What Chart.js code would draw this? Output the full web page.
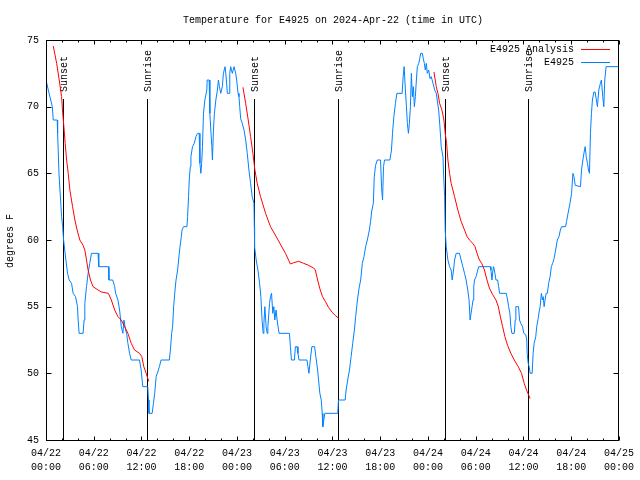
<!DOCTYPE html>
<html><head><meta charset="utf-8">
<script src="https://cdn.jsdelivr.net/npm/chart.js@4"></script>
<style>html,body{margin:0;padding:0;background:#fff}canvas{display:block}</style>
</head><body>
<canvas id="c" width="640" height="480"></canvas>
<script>
// time in hours since 2024-04-22 00:00 UTC
const obsHours = [0,0.29,0.59,0.79,0.91,1.41,1.46,1.63,1.96,2.09,2.21,2.5,2.71,2.91,3.21,3.41,3.71,3.96,4.04,4.16,4.66,4.79,4.88,5.09,5.29,5.5,5.71,6.54,6.63,7.84,7.91,8.38,8.63,8.75,9.04,9.25,9.46,9.66,9.79,10,10.13,10.29,10.5,10.71,11.75,11.96,12.16,12.79,12.88,12.94,13.34,13.5,13.66,13.84,14.04,14.25,14.46,15.5,15.63,15.79,15.91,16.04,16.21,16.34,16.54,16.66,16.84,17,17.09,17.29,17.71,17.79,17.91,18,18.13,18.21,18.41,18.63,18.84,19.04,19.25,19.34,19.46,19.56,19.66,19.79,19.96,20.21,20.25,20.5,20.59,20.71,20.84,20.91,21.04,21.16,21.34,21.54,21.66,21.79,21.96,22.16,22.29,22.5,22.63,22.79,23,23.09,23.21,23.41,23.63,23.84,23.96,24.13,24.25,24.34,24.46,24.66,24.88,25.09,25.29,25.5,25.71,25.91,26.13,26.18,26.21,26.41,26.63,26.84,27,27.16,27.29,27.38,27.5,27.66,27.79,27.88,28.09,28.21,28.34,28.5,28.63,28.75,28.91,29.04,29.16,29.29,30.59,30.71,30.84,31.21,31.34,31.54,31.66,31.79,32.79,32.91,33.04,33.21,33.41,33.75,33.91,34.13,34.25,34.41,34.59,34.71,34.79,34.91,35.04,36.66,36.75,37.59,37.71,37.91,38.13,38.34,38.54,38.75,38.91,39.13,39.34,39.54,39.75,39.96,40.16,40.38,40.63,40.79,40.91,41.13,41.25,41.41,41.63,42.04,42.16,42.29,42.41,42.54,43.21,43.41,43.54,43.71,43.91,44.09,44.75,44.88,45,45.16,45.29,45.41,45.54,45.66,45.79,45.91,46.04,46.16,46.29,46.41,46.54,46.66,46.84,46.96,47.09,47.29,47.41,47.54,47.66,47.79,47.91,48.09,48.25,48.41,48.63,48.84,49.04,49.16,49.34,49.5,49.66,49.88,49.96,50.09,50.16,50.29,50.5,50.71,50.91,51.04,51.21,51.34,51.54,51.96,52.16,52.38,52.59,52.79,53,53.16,53.29,53.41,53.54,53.66,53.75,53.84,54.04,54.25,54.38,55.84,55.91,56.04,56.16,56.25,56.41,56.54,56.75,56.88,57,57.84,58,58.13,58.29,58.41,58.54,58.84,58.96,59.04,59.38,59.5,59.66,59.88,60.04,60.29,60.41,60.46,60.59,60.71,60.84,61.09,61.21,61.34,61.54,61.66,61.84,61.96,62.09,62.25,62.38,62.48,62.59,62.71,62.84,63,63.16,63.34,63.5,63.66,63.84,64.04,64.25,64.46,64.63,64.79,65.29,65.41,65.63,65.84,66.04,66.21,66.34,66.5,67.16,67.29,67.46,67.59,67.75,67.88,68.04,68.16,68.29,68.41,68.54,68.66,68.84,69,69.16,69.29,69.46,69.66,69.79,69.96,70.09,70.21,70.38,72];
const obsTemps = [72,71.25,70.5,70,69,69,68,65,61.75,61,60,58.5,57.5,57,56.75,56,55.75,55,54,53,53,54,55.25,56.5,57.5,58.25,59,59,58,58,57,57,56.5,56,55.5,54.75,53.5,53,54,53.25,53,52.25,51.5,51,51,50.25,49,49,48,47,47,47.75,48.5,49.75,50.1,50.5,51,51,51.75,53,53.5,55,56.25,57,57.75,58.5,59.5,60.25,60.75,61,61,61.75,63.25,64.5,65.5,66.25,67,67.25,67.75,68,68,65.75,65,65.75,67,69.5,70.5,71.25,72,72,69.5,68.25,67,66,68.25,69.5,70.5,71.25,72,71.5,71,71.5,72.5,73,72.25,71,71,72.5,73,72.5,73,72.5,72,71,70.75,70,69.1,68.75,68.25,67.5,66.5,65.25,64.25,63.25,62.75,61,59.5,58.5,57.75,56.75,55.75,53.9,53,53.75,55,53.5,53,53.5,55.25,55.75,56,54.5,55,54,54.75,54,53.5,53,53,52,51,51,52,52,51.5,51,51,50.5,50,51,52,52,51.25,50.25,49.5,48.5,48,47,46,46.5,47,47,48,48,48.75,49.5,50.25,51.25,52.25,53.25,54.25,55.5,56.4,57,58.25,58.75,59.5,60,60.75,61.4,62.1,62.75,64.75,65.6,66,66,64,63,65.5,66,66,66.75,68,69.25,70.25,71,71,72.25,73,71.25,70,68.75,68,68.75,70,72.5,70.75,71.5,70,70.75,72,73,73.25,73.6,74,74,73.6,73.25,72.75,73.25,72.5,72.75,72.1,72.25,71.75,71.25,71,70.5,69.75,68.5,67,66.25,64.9,63.25,60.75,59.5,58.5,58,57.75,57,57.75,58.5,59,59,58.5,58,57.5,57,56.25,55.5,54,54.5,55,55.5,56.5,57,57.25,57.75,58,58,57.75,57,57.75,58,57.5,57,57,56.5,56,56,55.5,55,54.5,53.5,53,53,54,55,55,54,53.75,53.5,53,52.9,52.5,51.5,50.75,50.5,50,50,51.5,52.25,52.75,53.5,54.1,54.6,55,56,55.5,55.75,55,55.5,56,56,56.75,57.25,58,58.25,58.6,59.25,60,60.25,60.75,61,61,61.4,62.1,62.75,63.5,65,64.75,64.1,64,65.25,66,66.5,67,66.25,65.75,65.25,65,68,69.5,70.5,71.1,71.1,70.5,70,71.25,71.75,72,70.75,70,72,73,73];
// analysis series; null marks the daytime gaps
const anaHours = [0.91,1.34,1.66,1.96,2.09,2.25,2.41,2.59,2.79,3,3.34,3.63,3.91,4.25,4.66,4.88,5.09,5.29,5.59,5.91,6.54,6.96,7.84,8.21,8.63,9.04,9.46,9.88,10.29,10.71,11.13,11.75,12.04,12.29,12.59,12.91,18,24.75,25.09,25.41,25.71,26,26.25,26.54,26.96,27.59,28.21,29.16,30.09,30.71,31.13,31.75,32.38,33,33.63,33.84,34.13,34.46,34.75,35.09,35.5,35.91,36.34,36.84,42,48.75,49.04,49.25,49.46,49.75,50,50.16,50.34,50.5,50.71,50.91,51.34,51.75,52.16,52.59,52.91,53.21,53.63,53.91,54.16,54.46,54.75,55.09,55.41,55.71,56.13,56.54,56.84,57.09,57.38,57.66,58,58.41,58.84,59.34,59.75,60.09,60.38,60.63,60.84];
const anaTemps = [74.55,73.25,72,70.75,69.6,68.5,67.25,66,65,63.75,62.5,61.5,60.75,60,59.6,59.25,58.5,57.75,57,56.5,56.25,56.1,56,55.5,54.75,54.25,54,53.5,53,52.25,51.75,51.5,51.25,50.5,50,49.4,null,71.45,70.25,69,67.75,66.5,65.25,64.25,63.25,62,61,60,59,58.2,58.3,58.4,58.25,58.1,57.9,57.75,57,56.25,55.75,55.4,54.95,54.6,54.35,54.1,null,72.6,71.5,71,70.25,69.75,69,68,67.25,66,65,64.25,63.25,62.25,61.4,60.75,60.25,60,59.75,59.5,59,58.5,58.25,57.75,57,56.4,55.9,55.5,55,54.25,53.5,52.75,52.1,51.5,51,50.5,50,49.25,48.75,48.4,48.1];
const sunHours = [2.09, 12.66, 26.16, 36.66, 50.16, 60.54];
const sunLabels = ['Sunset','Sunrise','Sunset','Sunrise','Sunset','Sunrise'];
const xTickLabels = [['04/22','00:00'],['04/22','06:00'],['04/22','12:00'],['04/22','18:00'],['04/23','00:00'],['04/23','06:00'],['04/23','12:00'],['04/23','18:00'],['04/24','00:00'],['04/24','06:00'],['04/24','12:00'],['04/24','18:00'],['04/25','00:00']];
const yTickValues = [45,50,55,60,65,70,75];
const titleText = 'Temperature for E4925 on 2024-Apr-22 (time in UTC)';
const yAxisTitle = 'degrees F';
const seriesNames = ['E4925 Analysis','E4925'];
const seriesColors = ['#ff0000','#0080ff'];

const FONT = '10px "Liberation Mono", "DejaVu Sans Mono", monospace';

const toPoints = (xs, ys) => xs.map((x, i) => ({x: x, y: ys[i]}));

const gnuplotDecor = {
  id: 'gnuplotDecor',
  beforeDatasetsDraw(chart) {
    const {ctx, chartArea: a, scales: {x, y}} = chart;
    ctx.save();
    ctx.strokeStyle = '#000'; ctx.lineWidth = 1;
    const top = y.getPixelForValue(70.6);
    sunHours.forEach((h, i) => {
      const px = Math.round(x.getPixelForValue(h)) + 0.5;
      ctx.beginPath(); ctx.moveTo(px, Math.round(top)); ctx.lineTo(px, a.bottom); ctx.stroke();
      ctx.save();
      ctx.translate(px + 1, Math.round(top) - 7);
      ctx.rotate(-Math.PI / 2);
      ctx.font = FONT; ctx.fillStyle = '#000';
      ctx.textAlign = 'left'; ctx.textBaseline = 'middle';
      ctx.fillText(sunLabels[i], 0, 0);
      ctx.restore();
    });
    ctx.restore();
  },
  afterDraw(chart) {
    const {ctx, chartArea: a, scales: {x, y}} = chart;
    ctx.save();
    ctx.strokeStyle = '#000'; ctx.lineWidth = 1;
    const L = a.left + 0.5, R = a.right - 0.5, T = a.top + 0.5, B = a.bottom + 0.5;
    ctx.strokeRect(L, T, R - L, B - T);
    ctx.beginPath();
    for (let h = 0; h <= 72; h += 2) {
      const px = Math.round(x.getPixelForValue(h)) + 0.5;
      const len = (h % 6 === 0) ? 4 : 2;
      ctx.moveTo(px, B); ctx.lineTo(px, B - len);
      ctx.moveTo(px, T); ctx.lineTo(px, T + len);
    }
    yTickValues.forEach(v => {
      const py = Math.round(y.getPixelForValue(v)) + 0.5;
      ctx.moveTo(L, py); ctx.lineTo(L + 5, py);
      ctx.moveTo(R, py); ctx.lineTo(R - 5, py);
    });
    ctx.stroke();
    // title
    ctx.font = FONT; ctx.fillStyle = '#000';
    ctx.textAlign = 'center'; ctx.textBaseline = 'middle';
    ctx.fillText(titleText, 333, 20);
    // y axis title
    ctx.save();
    ctx.translate(10, 241); ctx.rotate(-Math.PI / 2);
    ctx.fillText(yAxisTitle, 0, 0);
    ctx.restore();
    // legend
    ctx.textAlign = 'right';
    seriesNames.forEach((n, i) => {
      const ly = 49 + i * 13;
      ctx.fillStyle = '#000';
      ctx.fillText(n, 574, ly);
      ctx.strokeStyle = seriesColors[i];
      ctx.beginPath(); ctx.moveTo(581, ly + 0.5); ctx.lineTo(610, ly + 0.5); ctx.stroke();
    });
    ctx.restore();
  }
};

new Chart(document.getElementById('c'), {
  type: 'line',
  data: {
    datasets: [
      {label: seriesNames[0], data: toPoints(anaHours, anaTemps), borderColor: seriesColors[0], borderWidth: 1, pointRadius: 0, spanGaps: false, tension: 0},
      {label: seriesNames[1], data: toPoints(obsHours, obsTemps), borderColor: seriesColors[1], borderWidth: 1, pointRadius: 0, spanGaps: false, tension: 0}
    ]
  },
  options: {
    responsive: false,
    animation: false,
    events: [],
    layout: {padding: {left: 0, top: 40, right: 18, bottom: 0}},
    plugins: {legend: {display: false}, title: {display: false}, tooltip: {enabled: false}},
    scales: {
      x: {
        type: 'linear', min: 0, max: 72,
        grid: {display: false, drawTicks: false},
        border: {display: false},
        ticks: {stepSize: 6, autoSkip: false, maxRotation: 0, padding: 6, color: '#000',
          font: {family: '"Liberation Mono", "DejaVu Sans Mono", monospace', size: 10, lineHeight: 1.4},
          callback: (v) => xTickLabels[Math.round(v / 6)]},
        afterFit: (s) => { s.height = 40; }
      },
      y: {
        type: 'linear', min: 45, max: 75,
        grid: {display: false, drawTicks: false},
        border: {display: false},
        ticks: {stepSize: 5, padding: 7, color: '#000',
          font: {family: '"Liberation Mono", "DejaVu Sans Mono", monospace', size: 10}},
        afterFit: (s) => { s.width = 46; }
      }
    }
  },
  plugins: [gnuplotDecor]
});
</script>
</body></html>
